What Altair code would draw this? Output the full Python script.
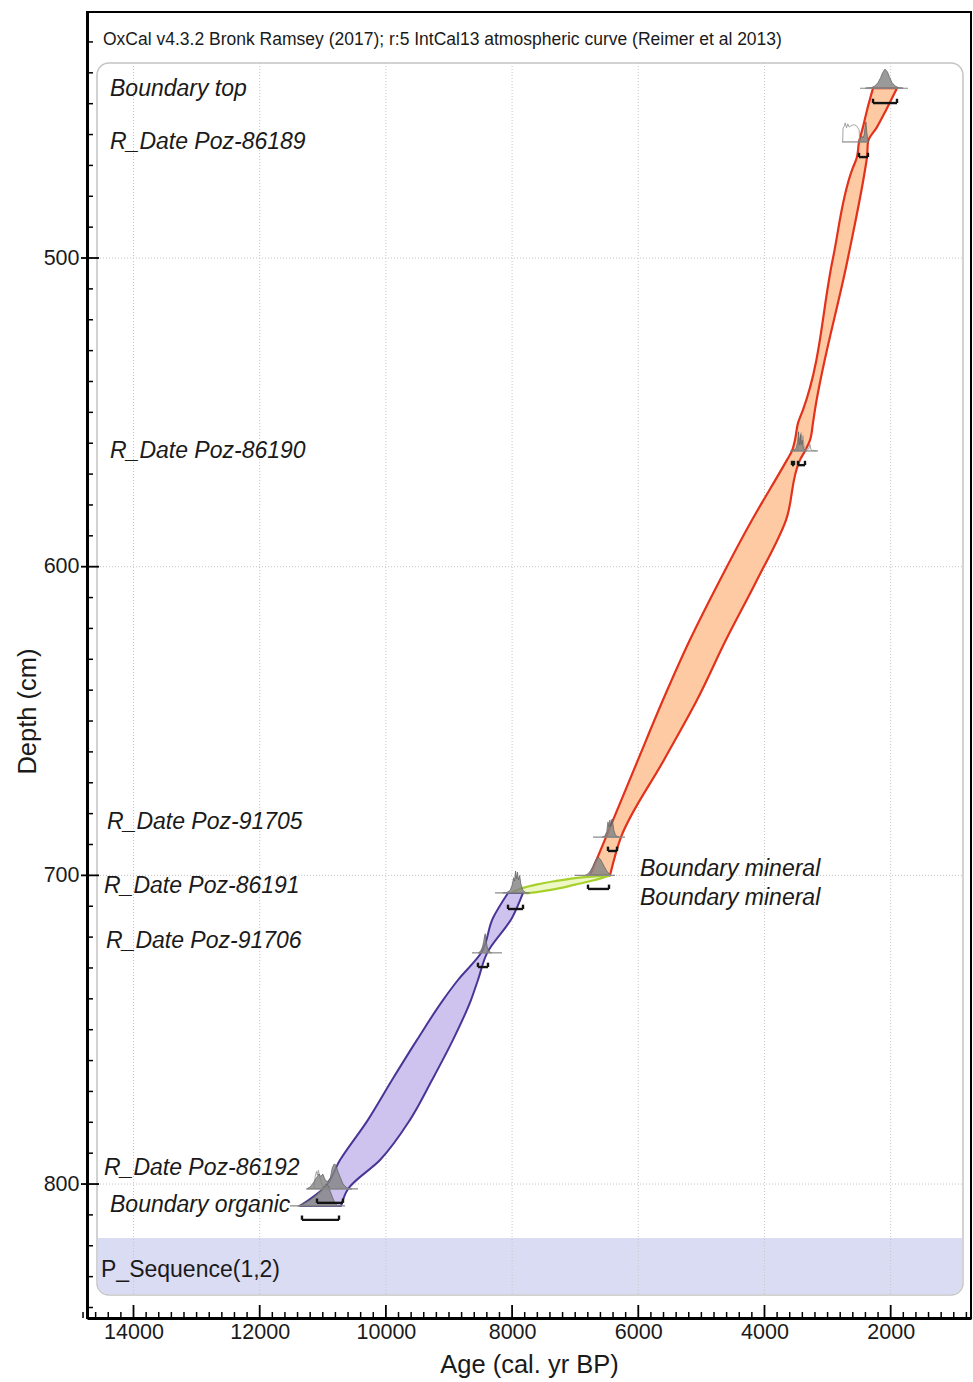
import altair as alt
import pandas as pd

# ---------------------------------------------------------------- axes
AGE_RANGE = [14737, 727]       # cal BP, oldest on the left
DEPTH_RANGE = [843.4, 420.3]   # cm, shallowest at the top
AGE_MAJOR = [14000, 12000, 10000, 8000, 6000, 4000, 2000]
DEPTH_MAJOR = [500, 600, 700, 800]
AGE_MINOR = [a for a in range(800, 14801, 200) if a not in AGE_MAJOR]
DEPTH_MINOR = [d for d in range(430, 841, 10) if d not in DEPTH_MAJOR]

# ---------------------------------------------------------------- envelopes (95 % model ranges)
upper_depth = [445.0, 452.1, 457.6, 462.4, 467.3, 471.5, 500.0, 549.2, 553.5, 559.0,
               562.5, 565.4, 584.9, 604.3, 623.7, 643.2, 662.6, 687.6, 700.0]
upper_old = [2280, 2375, 2439, 2502, 2534, 2613, 2914, 3390, 3469, 3517,
             3564, 3643, 4198, 4705, 5181, 5609, 6005, 6512, 6765]
upper_young = [1900, 2074, 2217, 2360, 2375, 2407, 2677, 3200, 3232, 3279,
               3358, 3437, 3659, 4119, 4610, 5070, 5593, 6274, 6448]

hiatus_age = [6448, 6700, 7000, 7300, 7600, 7850, 7985]
hiatus_top = [700.0, 700.3, 700.9, 701.8, 702.9, 704.2, 705.3]
hiatus_bottom = [700.0, 701.6, 703.0, 704.4, 705.4, 705.8, 705.3]

lower_depth = [705.7, 713.8, 725.1, 733.9, 740.4, 753.3, 766.3, 779.2, 792.2, 801.6, 807.1]
lower_old = [8065, 8303, 8490, 8858, 9095, 9507, 9903, 10284, 10727, 10997, 11361]
lower_young = [7827, 8002, 8395, 8541, 8652, 8937, 9269, 9618, 10093, 10600, 10711]

# ---------------------------------------------------------------- posterior densities (relative)
top_ages = [2400, 2300, 2250, 2200, 2160, 2130, 2090, 2050, 2020, 1980, 1930, 1880, 1800]
top_dens = [0.01, 0.04, 0.12, 0.3, 0.55, 0.8, 1.0, 0.85, 0.6, 0.3, 0.12, 0.04, 0.01]

p89_ages = [2520, 2490, 2460, 2440, 2420, 2405, 2392, 2380, 2365, 2345]
p89_dens = [0, 0.12, 0.3, 0.2, 0.35, 0.75, 1.0, 0.55, 0.15, 0]

p90_ages = [3580, 3540, 3500, 3475, 3460, 3450, 3440, 3428, 3415, 3400, 3385, 3360, 3330]
p90_dens = [0, 0.04, 0.12, 0.45, 1.0, 0.45, 0.3, 0.85, 0.35, 0.55, 0.15, 0.04, 0]

p05_ages = [6570, 6530, 6500, 6480, 6465, 6450, 6435, 6418, 6400, 6385, 6365, 6340, 6300]
p05_dens = [0, 0.06, 0.3, 0.85, 0.55, 0.95, 0.6, 1.0, 0.7, 0.35, 0.15, 0.04, 0]

bmin_ages = [6840, 6800, 6760, 6720, 6690, 6660, 6630, 6600, 6570, 6540, 6500, 6460, 6430]
bmin_dens = [0, 0.08, 0.25, 0.5, 0.75, 0.95, 1.0, 0.9, 0.7, 0.5, 0.25, 0.08, 0]

p91_ages = [8150, 8080, 8030, 8000, 7975, 7960, 7945, 7930, 7915, 7900, 7880, 7860, 7830, 7790, 7740]
p91_dens = [0, 0.03, 0.12, 0.35, 0.7, 0.55, 1.0, 0.65, 0.95, 0.6, 0.8, 0.4, 0.12, 0.03, 0]

p06_ages = [8540, 8500, 8470, 8450, 8435, 8425, 8410, 8390, 8360, 8320]
p06_dens = [0, 0.08, 0.3, 0.6, 0.9, 1.0, 0.6, 0.25, 0.06, 0]

p92_ages = [11260, 11200, 11150, 11100, 11060, 11030, 11000, 10960, 10920, 10880,
            10850, 10820, 10790, 10760, 10720, 10680, 10620, 10540]
p92_dens = [0, 0.08, 0.25, 0.45, 0.6, 0.5, 0.6, 0.35, 0.3, 0.45,
            0.85, 1.0, 0.95, 0.7, 0.45, 0.2, 0.05, 0]

borg_ages = [11400, 11330, 11260, 11190, 11120, 11050, 10990, 10940, 10910, 10880, 10840, 10800, 10760]
borg_dens = [0, 0.08, 0.18, 0.3, 0.45, 0.65, 0.85, 1.0, 0.9, 0.65, 0.35, 0.1, 0]

# unmodelled likelihoods (outlines)
p89_like_ages = [2760, 2755, 2740, 2720, 2700, 2680, 2660, 2630, 2600, 2570, 2540, 2500, 2490]
p89_like_dens = [0, 0.7, 0.75, 0.95, 0.7, 0.9, 0.75, 0.8, 0.85, 0.85, 0.8, 0.6, 0]
p90_like_ages = [3470, 3450, 3435, 3420, 3405, 3390, 3370, 3340, 3300, 3280, 3265, 3240, 3180]
p90_like_dens = [0, 0.7, 0.4, 0.95, 0.5, 0.8, 0.15, 0.08, 0.1, 0.35, 0.08, 0.03, 0]
p92_like_ages = [11140, 11120, 11100, 11085, 11070, 11050, 11030, 11000, 10980]
p92_like_dens = [0, 0.5, 0.7, 0.55, 0.75, 0.5, 0.3, 0.1, 0]

# sample names, depths and drawn peak heights (cm of depth axis)
dist_names = ["Boundary top", "Poz-86189", "Poz-86190", "Poz-91705", "Boundary mineral",
              "Poz-86191", "Poz-91706", "Poz-86192", "Boundary organic"]
dist_depth = [445.0, 462.4, 562.5, 687.6, 700.0, 705.7, 725.1, 801.6, 807.1]
dist_ages = [top_ages, p89_ages, p90_ages, p05_ages, bmin_ages, p91_ages, p06_ages, p92_ages, borg_ages]
dist_dens = [top_dens, p89_dens, p90_dens, p05_dens, bmin_dens, p91_dens, p06_dens, p92_dens, borg_dens]
dist_peak = [6.2, 6.5, 6.2, 5.8, 5.8, 7.1, 6.2, 8.1, 7.1]

like_names = ["Poz-86189", "Poz-86190", "Poz-86192"]
like_ages = [p89_like_ages, p90_like_ages, p92_like_ages]
like_dens = [p89_like_dens, p90_like_dens, p92_like_dens]

# baseline span of every density
base_old = [2486, 2772, 3596, 6718, 7006, 8271, 8636, 11250, 11520]
base_young = [1725, 2360, 3152, 6210, 6369, 7717, 8160, 10442, 10648]

# 95 % ranges drawn as brackets below each density
br_depth = [449.8, 467.3, 567.1, 567.1, 692.1, 704.4, 710.9, 729.7, 806.1, 811.6]
br_old = [2280, 2502, 3564, 3469, 6480, 6797, 8065, 8541, 11092, 11330]
br_young = [1900, 2360, 3533, 3358, 6337, 6464, 7827, 8382, 10680, 10743]

# labels
label_text = ["Boundary top", "R_Date Poz-86189", "R_Date Poz-86190", "R_Date Poz-91705",
              "R_Date Poz-86191", "R_Date Poz-91706", "R_Date Poz-86192", "Boundary organic",
              "Boundary mineral", "Boundary mineral"]
label_depth = [445.2, 462.3, 562.4, 682.8, 703.6, 721.4, 794.9, 806.9, 697.8, 707.2]
HEADER = "OxCal v4.3.2 Bronk Ramsey (2017); r:5 IntCal13 atmospheric curve (Reimer et al 2013)"
SEQUENCE = "P_Sequence(1,2)"

# ---------------------------------------------------------------- style
W, H = 884, 1306
FONT = "Liberation Sans"
LABEL_INDENT = {"Boundary top": 23, "R_Date Poz-86189": 23, "R_Date Poz-86190": 23,
                "R_Date Poz-91705": 20, "R_Date Poz-86191": 17, "R_Date Poz-91706": 19,
                "R_Date Poz-86192": 17, "Boundary organic": 23, "Boundary mineral": 553}
BRACKET_TICK = 1.4  # cm

x_scale = alt.Scale(domain=AGE_RANGE, nice=False, zero=False)
y_scale = alt.Scale(domain=DEPTH_RANGE, nice=False, zero=False)
x_axis = alt.Axis(values=AGE_MAJOR, format="d", title="Age (cal. yr BP)", ticks=False, grid=False,
                  labelPadding=3, titlePadding=10, labelFlush=False, labelOverlap=False)
y_axis = alt.Axis(values=DEPTH_MAJOR, format="d", title="Depth (cm)", ticks=False, grid=False,
                  labelPadding=8, titleX=-60, titleY=699, titleAngle=-90, titleAlign="center",
                  titleBaseline="middle", labelFlush=False, labelOverlap=False)


def X(field):
    return alt.X(field, type="quantitative", scale=x_scale, axis=x_axis)


def Y(field):
    return alt.Y(field, type="quantitative", scale=y_scale, axis=y_axis)


one = pd.DataFrame({"k": [0]})

# ---------------------------------------------------------------- tables
upper = pd.DataFrame({"depth": upper_depth, "old": upper_old, "young": upper_young})
lower = pd.DataFrame({"depth": lower_depth, "old": lower_old, "young": lower_young})
hiatus = pd.DataFrame({"age": hiatus_age, "top": hiatus_top, "bottom": hiatus_bottom})

rows = []
for name, d, ages, dens, pk in zip(dist_names, dist_depth, dist_ages, dist_dens, dist_peak):
    for a, p in zip(ages, dens):
        rows.append({"name": name, "age": a, "base": d, "top": d - p * pk})
dists = pd.DataFrame(rows)

rows = []
for name, ages, dens in zip(like_names, like_ages, like_dens):
    i = dist_names.index(name)
    for a, p in zip(ages, dens):
        rows.append({"name": name, "age": a, "top": dist_depth[i] - p * dist_peak[i]})
likes = pd.DataFrame(rows)

bases = pd.DataFrame({"depth": dist_depth, "old": base_old, "young": base_young})
brackets = pd.DataFrame({"depth": br_depth, "old": br_old, "young": br_young})
br_ends = pd.DataFrame({"age": br_old + br_young, "depth": br_depth + br_depth})
br_ends["tip"] = br_ends["depth"] - BRACKET_TICK

labels = pd.DataFrame({"text": label_text, "depth": label_depth})

# ---------------------------------------------------------------- layers
layers = []

# rounded frame and the sequence band
layers.append(alt.Chart(one).mark_rect(cornerRadius=12, fill="white", stroke="#c4c4c4",
                                       strokeWidth=1.5).encode(
    x=alt.value(10), x2=alt.value(876), y=alt.value(51), y2=alt.value(1283)))
layers.append(alt.Chart(one).mark_rect(cornerRadiusBottomLeft=11, cornerRadiusBottomRight=11,
                                       fill="#dadcf3").encode(
    x=alt.value(10.8), x2=alt.value(875.2), y=alt.value(1226), y2=alt.value(1282.2)))

# dotted grid
layers.append(alt.Chart(pd.DataFrame({"age": AGE_MAJOR})).mark_rule(
    color="#c6c6c6", strokeWidth=1, strokeDash=[1, 2]).encode(
    x=X("age"), y=alt.value(51), y2=alt.value(1283)))
layers.append(alt.Chart(pd.DataFrame({"depth": DEPTH_MAJOR})).mark_rule(
    color="#c6c6c6", strokeWidth=1, strokeDash=[1, 2]).encode(
    y=Y("depth"), x=alt.value(10), x2=alt.value(876)))

# model envelopes
layers.append(alt.Chart(upper).mark_area(orient="horizontal", interpolate="monotone",
                                         fill="#fdcaa3", stroke="#e2321c",
                                         strokeWidth=2.2, strokeJoin="round").encode(
    y=Y("depth"), x=X("old"), x2="young"))
layers.append(alt.Chart(hiatus).mark_area(orient="vertical", interpolate="monotone",
                                          fill="#eef7c6", stroke="#a6d02c",
                                          strokeWidth=2.2, strokeJoin="round").encode(
    x=X("age"), y=Y("top"), y2="bottom"))
layers.append(alt.Chart(lower).mark_area(orient="horizontal", interpolate="monotone",
                                         fill="#cec3ef", stroke="#4a3597",
                                         strokeWidth=2, strokeJoin="round").encode(
    y=Y("depth"), x=X("old"), x2="young"))

# likelihood outlines
layers.append(alt.Chart(likes).mark_line(color="#9a9a9a", strokeWidth=0.9).encode(
    x=X("age"), y=Y("top"), detail="name:N"))

# posterior densities
layers.append(alt.Chart(dists).mark_area(fill="#848484", fillOpacity=0.82, stroke="#5c5c5c",
                                         strokeWidth=0.7).encode(
    x=X("age"), y=Y("top"), y2="base", detail="name:N"))

# density baselines
layers.append(alt.Chart(bases).mark_rule(color="#8a8a8a", strokeWidth=1.2).encode(
    y=Y("depth"), x=X("old"), x2="young"))

# 95 % range brackets
layers.append(alt.Chart(brackets).mark_rule(color="#141414", strokeWidth=2.4).encode(
    y=Y("depth"), x=X("old"), x2="young"))
layers.append(alt.Chart(br_ends).mark_rule(color="#141414", strokeWidth=2.4).encode(
    x=X("age"), y=Y("depth"), y2="tip"))

# sample labels
for text in dict.fromkeys(label_text):
    layers.append(alt.Chart(labels[labels["text"] == text]).mark_text(
        align="left", baseline="middle", font=FONT, fontSize=23, fontStyle="italic",
        color="#1a1a1a").encode(x=alt.value(LABEL_INDENT[text]), y=Y("depth"), text="text:N"))

layers.append(alt.Chart(one).mark_text(align="left", baseline="middle", font=FONT, fontSize=17.5,
                                       color="#1a1a1a").encode(
    x=alt.value(16), y=alt.value(28), text=alt.value(HEADER)))
layers.append(alt.Chart(one).mark_text(align="left", baseline="middle", font=FONT, fontSize=23,
                                       color="#1a1a1a").encode(
    x=alt.value(14), y=alt.value(1258), text=alt.value(SEQUENCE)))

# axis tick marks
layers.append(alt.Chart(pd.DataFrame({"depth": DEPTH_MINOR})).mark_rule(
    color="black", strokeWidth=1.5).encode(y=Y("depth"), x=alt.value(0), x2=alt.value(6)))
layers.append(alt.Chart(pd.DataFrame({"depth": DEPTH_MAJOR})).mark_rule(
    color="black", strokeWidth=1.8).encode(y=Y("depth"), x=alt.value(-6), x2=alt.value(12)))
layers.append(alt.Chart(pd.DataFrame({"age": AGE_MINOR})).mark_rule(
    color="black", strokeWidth=1.5).encode(x=X("age"), y=alt.value(H), y2=alt.value(H - 6)))
layers.append(alt.Chart(pd.DataFrame({"age": AGE_MAJOR})).mark_rule(
    color="black", strokeWidth=1.8).encode(x=X("age"), y=alt.value(H), y2=alt.value(H - 13)))

chart = alt.layer(*layers).properties(
    width=W, height=H,
    padding={"left": 87, "top": 12, "right": 2, "bottom": 64},
    autosize=alt.AutoSizeParams(type="none"),
    background="white",
).configure_view(
    stroke="black", strokeWidth=2,
).configure_axis(
    domainColor="black", domainWidth=3,
    labelFont=FONT, labelFontSize=21.5, labelColor="#1a1a1a",
    titleFont=FONT, titleFontSize=25.5, titleFontWeight="normal", titleColor="#1a1a1a",
)

chart.save("out.html", embed_options={"renderer": "svg", "actions": False})
